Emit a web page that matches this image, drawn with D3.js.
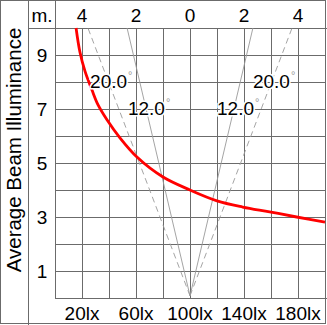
<!DOCTYPE html>
<html><head><meta charset="utf-8">
<script src="https://cdn.jsdelivr.net/npm/d3@7"></script>
<style>html,body{margin:0;padding:0;background:#fff;}svg{display:block;font-family:"Liberation Sans",Arial,sans-serif;}</style>
</head><body>
<svg id="c" width="327" height="325"></svg>
<script>
// ---- data ----
const luxTicks = [20, 60, 100, 140, 180];
const meterTicks = [-4, -2, 0, 2, 4];
const distTicks = [1, 3, 5, 7, 9];
const curveLux = [15.6, 18.5, 22.2, 27.4, 31.9, 38.5, 48.1, 60.7, 80, 100, 120, 139, 159, 179, 200];
const curveDist = [10, 9.1, 8.4, 7.7, 7.15, 6.6, 5.93, 5.22, 4.48, 4.0, 3.6, 3.37, 3.19, 3.0, 2.81];
const beamLabels = ["12.0", "20.0"];
const beamEdgeAt10m = [2.33, 3.78];   // half-width (m) at 10 m
const beamLabelPos = [[-2.3, 6.78], [1.0, 6.78], [-3.7, 7.78], [2.33, 7.78]]; // [m, d] label start anchors
const titleText = "Average Beam Illuminance";

// ---- layout ----
const L = 55, R = 325, T = 28, B = 298;
const svg = d3.select("#c");
const x = d3.scaleLinear().domain([0, 200]).range([L, R]);
const xm = d3.scaleLinear().domain([-5, 5]).range([L, R]);
const y = d3.scaleLinear().domain([0, 10]).range([B, T]);
const gridColor = "#6b6b6b";

// grid
const g = svg.append("g").attr("stroke", gridColor).attr("stroke-width", 1).attr("shape-rendering", "crispEdges");
d3.range(1, 10).forEach(i => {
  const vx = Math.round(x(i * 20)) + 0.5;
  g.append("line").attr("x1", vx).attr("x2", vx).attr("y1", T).attr("y2", B);
  const hy = Math.round(y(i)) + 0.5;
  g.append("line").attr("x1", L).attr("x2", R).attr("y1", hy).attr("y2", hy);
});
// frame lines
g.append("line").attr("x1", 28.5).attr("x2", 28.5).attr("y1", 0).attr("y2", 325);
g.append("line").attr("x1", L + 0.5).attr("x2", L + 0.5).attr("y1", 0).attr("y2", B);
g.append("line").attr("x1", 28).attr("x2", 327).attr("y1", T + 0.5).attr("y2", T + 0.5);
g.append("line").attr("x1", L).attr("x2", 327).attr("y1", B + 0.5).attr("y2", B + 0.5);
g.append("rect").attr("x", 0.5).attr("y", 0.5).attr("width", R).attr("height", 323).attr("fill", "none");

// beam lines
const beams = svg.append("g").attr("fill", "none").attr("stroke", "#9a9a9a").attr("stroke-width", 0.9);
beamEdgeAt10m.forEach((w, i) => {
  [-1, 1].forEach(s => {
    beams.append("line")
      .attr("x1", xm(0)).attr("y1", y(0.08))
      .attr("x2", xm(s * w)).attr("y2", y(10))
      .attr("stroke-dasharray", i === 1 ? "6,4" : null);
  });
});

// curve
const pts = curveLux.map((v, i) => [x(v), y(curveDist[i])]);
svg.append("path").attr("d", d3.line().curve(d3.curveCatmullRom)(pts))
  .attr("fill", "none").attr("stroke", "#ff0000").attr("stroke-width", 2.8);

// beam labels
const lbl = svg.append("g").attr("font-size", 19).attr("fill", "#000");
[[0, 0], [0, 1], [1, 2], [1, 3]].forEach(([bi, pi]) => {
  const t = lbl.append("text")
    .attr("x", xm(beamLabelPos[pi][0])).attr("y", y(beamLabelPos[pi][1]));
  t.append("tspan").text(beamLabels[bi])
    .attr("stroke", "#fff").attr("stroke-width", 3).attr("paint-order", "stroke");
  t.append("tspan").text("°").attr("font-size", 11).attr("fill", "#999").attr("dy", -9).attr("dx", 1);
});

// axes text
const txt = svg.append("g").attr("font-size", 19).attr("fill", "#000").attr("text-anchor", "middle");
luxTicks.forEach(v => txt.append("text").attr("x", x(v)).attr("y", 320).text(v + "lx"));
meterTicks.forEach(v => txt.append("text").attr("x", xm(v)).attr("y", 22).text(Math.abs(v)));
txt.append("text").attr("x", 42).attr("y", 22).text("m.");
distTicks.forEach(v => txt.append("text").attr("x", 42).attr("y", y(v) + 7).text(v));
txt.append("text").attr("transform", "translate(21,150) rotate(-90)").attr("font-size", 20.5).text(titleText);
</script>
</body></html>
